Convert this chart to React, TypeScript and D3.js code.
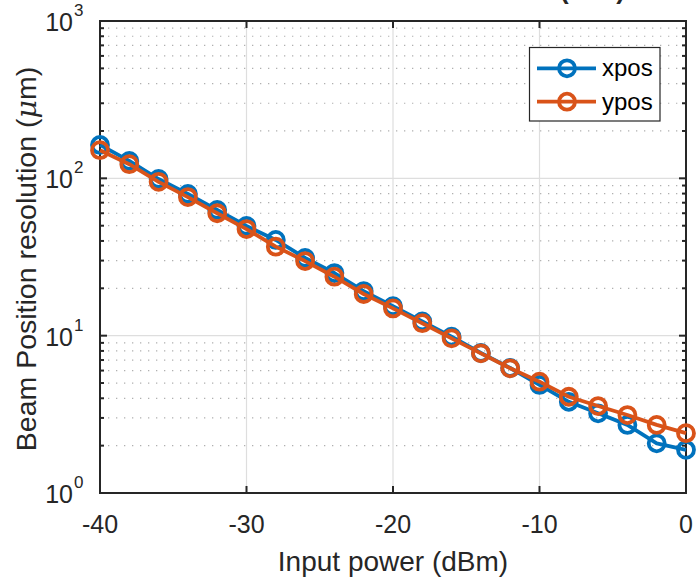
import React from 'react';
import * as d3 from 'd3';

const power = [-40, -38, -36, -34, -32, -30, -28, -26, -24, -22, -20, -18, -16, -14, -12, -10, -8, -6, -4, -2, 0];
const xpos = [163, 129, 99, 79.5, 63, 49.8, 40.6, 31.2, 25, 19.2, 15.4, 12.3, 9.85, 7.76, 6.23, 4.86, 3.8, 3.21, 2.71, 2.07, 1.88];
const ypos = [151, 123, 95, 76, 60, 47.6, 36.8, 29.8, 23.7, 18.4, 14.9, 12.0, 9.62, 7.72, 6.2, 5.1, 4.09, 3.57, 3.13, 2.71, 2.4];
const xTicks = [-40, -30, -20, -10, 0];
const yExponents = [0, 1, 2, 3];
const seriesNames = ['xpos', 'ypos'];
const seriesColors = ['#0072BD', '#D95319'];

export default function App() {
  const width = 696;
  const height = 580;
  const left = 100, right = 686, top = 21, bottom = 493;
  const font = '"Liberation Sans", Arial, Helvetica, sans-serif';
  const axisColor = '#262626';
  const lw = 3.8;
  const r = 8;

  const x = d3.scaleLinear().domain([-40, 0]).range([left, right]);
  const y = d3.scaleLog().domain([1, 1000]).range([bottom, top]);

  const line = d3.line<number>()
    .x((d, i) => x(power[i]))
    .y(d => y(d));

  // minor values 2..9 in each decade
  const minors: number[] = [];
  yExponents.slice(0, 3).forEach(e => {
    for (let k = 2; k <= 9; k++) minors.push(k * Math.pow(10, e));
  });

  const series = [xpos, ypos];

  return (
    <svg width={width} height={height} style={{ position: 'absolute', left: 0, top: 0, background: '#fff' }}>
      <rect x={0} y={0} width={width} height={height} fill="#fff" />

      {/* title, mostly cut off above the picture */}
      <text x={625} y={-1} textAnchor="end" fontFamily={font} fontSize={26} fontWeight="bold" fill={axisColor}>
        Beam Position resolution (rms)
      </text>

      {/* minor grid */}
      {minors.map(v => (
        <line key={'mg' + v} x1={left} x2={right} y1={y(v)} y2={y(v)}
          stroke="#b0b0b0" strokeWidth={1.2} strokeDasharray="1.3,6.7" />
      ))}
      {/* major grid */}
      {yExponents.map(e => (
        <line key={'gy' + e} x1={left} x2={right} y1={y(Math.pow(10, e))} y2={y(Math.pow(10, e))}
          stroke="#dedede" strokeWidth={1.2} />
      ))}
      {xTicks.map(t => (
        <line key={'gx' + t} x1={x(t)} x2={x(t)} y1={top} y2={bottom} stroke="#dedede" strokeWidth={1.2} />
      ))}

      {/* axes box */}
      <rect x={left} y={top} width={right - left} height={bottom - top} fill="none" stroke={axisColor} strokeWidth={2} />

      {/* ticks */}
      {xTicks.map(t => (
        <g key={'tx' + t}>
          <line x1={x(t)} x2={x(t)} y1={bottom} y2={bottom - 7} stroke={axisColor} strokeWidth={2} />
          <line x1={x(t)} x2={x(t)} y1={top} y2={top + 7} stroke={axisColor} strokeWidth={2} />
          <text x={x(t)} y={bottom + 40} textAnchor="middle" fontFamily={font} fontSize={25} fill={axisColor}>
            {t}
          </text>
        </g>
      ))}
      {yExponents.map(e => (
        <g key={'ty' + e}>
          <line x1={left} x2={left + 7} y1={y(Math.pow(10, e))} y2={y(Math.pow(10, e))} stroke={axisColor} strokeWidth={2} />
          <line x1={right} x2={right - 7} y1={y(Math.pow(10, e))} y2={y(Math.pow(10, e))} stroke={axisColor} strokeWidth={2} />
          <text x={73} y={y(Math.pow(10, e)) + 10} textAnchor="end" fontFamily={font} fontSize={25} fill={axisColor}>
            10
          </text>
          <text x={74} y={y(Math.pow(10, e)) - 5} textAnchor="start" fontFamily={font} fontSize={17} fill={axisColor}>
            {e}
          </text>
        </g>
      ))}
      {minors.map(v => (
        <g key={'mt' + v}>
          <line x1={left} x2={left + 4} y1={y(v)} y2={y(v)} stroke={axisColor} strokeWidth={2} />
          <line x1={right} x2={right - 4} y1={y(v)} y2={y(v)} stroke={axisColor} strokeWidth={2} />
        </g>
      ))}

      {/* axis labels */}
      <text x={(left + right) / 2} y={571} textAnchor="middle" fontFamily={font} fontSize={28} fill={axisColor}>
        Input power (dBm)
      </text>
      <text transform={`translate(36,${(top + bottom) / 2 + 2}) rotate(-90)`} textAnchor="middle"
        fontFamily={font} fontSize={28.5} fill={axisColor}>
        Beam Position resolution (<tspan fontFamily='"DejaVu Serif", "Liberation Serif", serif' fontStyle="italic">μ</tspan>m)
      </text>

      {/* series */}
      {series.map((s, si) => (
        <g key={'s' + si}>
          <path d={line(s) || ''} fill="none" stroke={seriesColors[si]} strokeWidth={lw} strokeLinejoin="round" />
          {s.map((v, i) => (
            <circle key={i} cx={x(power[i])} cy={y(v)} r={r} fill="none" stroke={seriesColors[si]} strokeWidth={lw} />
          ))}
        </g>
      ))}

      {/* legend */}
      <g>
        <rect x={529.5} y={47.5} width={130.5} height={73.5} fill="#fff" stroke={axisColor} strokeWidth={1.2} />
        {seriesNames.map((name, i) => {
          const ly = 68.3 + i * 33.4;
          return (
            <g key={name}>
              <line x1={537} x2={596} y1={ly} y2={ly} stroke={seriesColors[i]} strokeWidth={lw} />
              <circle cx={567} cy={ly} r={r} fill="none" stroke={seriesColors[i]} strokeWidth={lw} />
              <text x={602} y={ly + 8} fontFamily={font} fontSize={24} fill="#000">{name}</text>
            </g>
          );
        })}
      </g>
    </svg>
  );
}
